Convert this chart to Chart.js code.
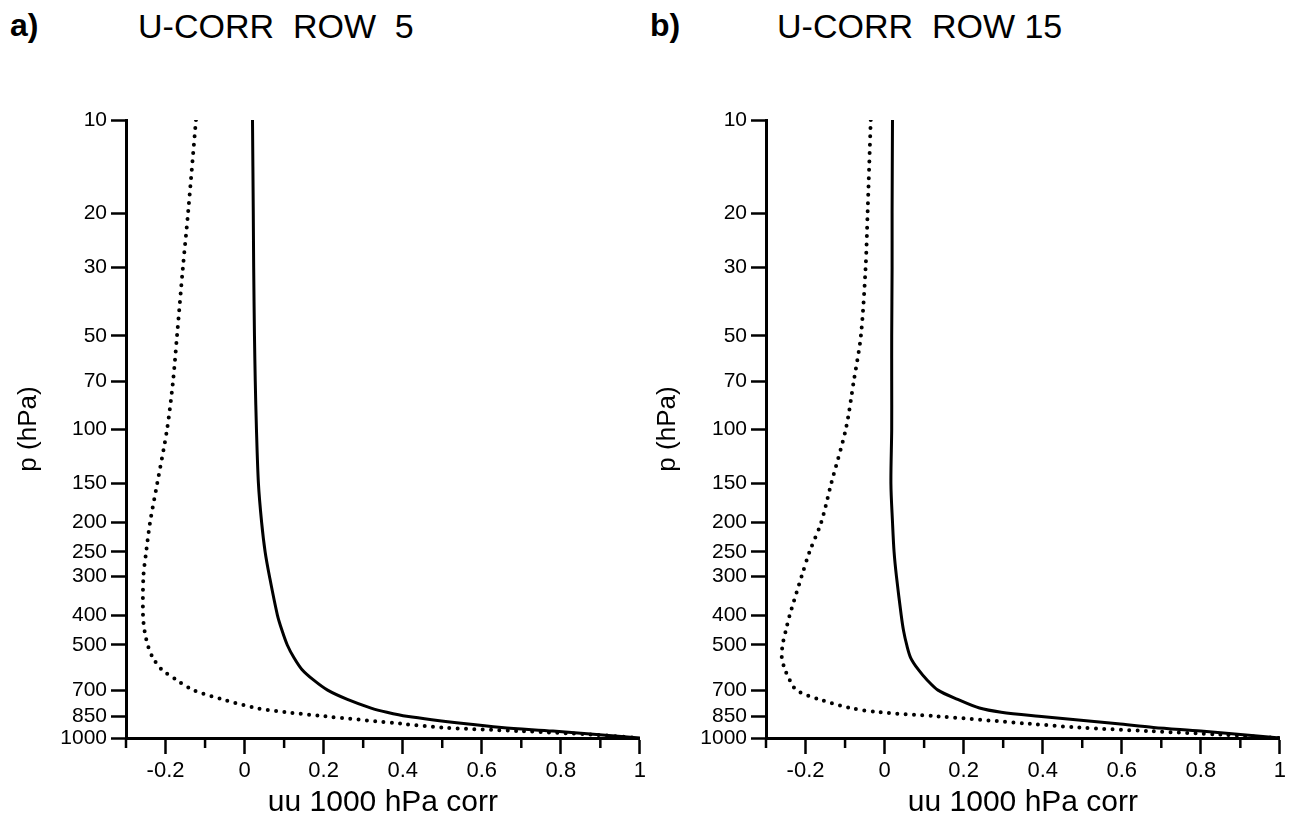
<!DOCTYPE html>
<html>
<head>
<meta charset="utf-8">
<script src="https://cdn.jsdelivr.net/npm/chart.js@4"></script>
<style>
  html, body { margin: 0; padding: 0; background: #fff; }
  body { width: 1290px; height: 818px; position: relative; overflow: hidden; font-family: "Liberation Sans", Arial, sans-serif; }
  .lbl { position: absolute; white-space: pre; color: #000; line-height: 1; }
  .panel { position: absolute; font-size: 32px; font-weight: bold; top: 9px; }
  .title { position: absolute; font-size: 34px; top: 9px; white-space: pre; }
  canvas { position: absolute; top: 0; }
</style>
</head>
<body>
<div class="lbl panel" style="left:10px">a)</div>
<div class="lbl title" style="left:138px">U-CORR  ROW  5</div>
<div class="lbl panel" style="left:650px">b)</div>
<div class="lbl title" style="left:777px">U-CORR  ROW 15</div>
<canvas id="chartA" width="650" height="818" style="left:0;width:650px;height:818px"></canvas>
<canvas id="chartB" width="645" height="818" style="left:645px;width:645px;height:818px"></canvas>
<script>
// pressure levels (hPa) where the curves were read
const levels = [10, 20, 30, 50, 70, 100, 150, 200, 250, 300, 400, 450, 500, 550, 600, 650, 700, 750, 800, 825, 850, 900, 925, 950, 975, 1000];

// panel a) row 5
const solidA  = [0.02, 0.022, 0.023, 0.025, 0.027, 0.03, 0.035, 0.043, 0.052, 0.063, 0.083, 0.095, 0.108, 0.125, 0.145, 0.175, 0.21, 0.26, 0.32, 0.36, 0.41, 0.56, 0.65, 0.78, 0.89, 1.0];
const dottedA = [-0.123, -0.143, -0.156, -0.171, -0.181, -0.196, -0.221, -0.239, -0.249, -0.256, -0.257, -0.253, -0.245, -0.232, -0.21, -0.171, -0.13, -0.055, 0.03, 0.105, 0.2, 0.4, 0.5, 0.7, 0.88, 1.0];

// panel b) row 15
const solidB  = [0.02, 0.019, 0.019, 0.018, 0.018, 0.018, 0.016, 0.02, 0.024, 0.03, 0.042, 0.048, 0.056, 0.066, 0.085, 0.108, 0.135, 0.185, 0.24, 0.295, 0.39, 0.59, 0.68, 0.8, 0.9, 1.0];
const dottedB = [-0.035, -0.043, -0.048, -0.06, -0.078, -0.098, -0.135, -0.16, -0.19, -0.21, -0.24, -0.25, -0.258, -0.26, -0.252, -0.24, -0.223, -0.165, -0.085, -0.015, 0.13, 0.37, 0.49, 0.67, 0.85, 1.0];

const yTicks = [10, 20, 30, 50, 70, 100, 150, 200, 250, 300, 400, 500, 700, 850, 1000];
const xMajorTicks = [-0.2, 0, 0.2, 0.4, 0.6, 0.8, 1];
const xMinorTicks = [-0.3, -0.1, 0.1, 0.3, 0.5, 0.7, 0.9];

const FONT = '"Liberation Sans", Arial, sans-serif';

function pairs(xs) {
    return xs.map((x, i) => ({ x: x, y: levels[i] }));
}

// short ticks on the odd tenths of the x axis
const minorTicks = {
    id: 'minorTicks',
    afterDraw(chart) {
        const xs = chart.scales.x;
        const ctx = chart.ctx;
        ctx.save();
        ctx.strokeStyle = '#000';
        ctx.lineWidth = 2.5;
        xMinorTicks.forEach(v => {
            const px = xs.getPixelForValue(v);
            ctx.beginPath();
            ctx.moveTo(px, xs.top);
            ctx.lineTo(px, xs.top + 10);
            ctx.stroke();
        });
        ctx.restore();
    }
};

function makeChart(id, solid, dotted, yAxisWidth, padRight, yTitlePad) {
    const ctx = document.getElementById(id).getContext('2d');
    return new Chart(ctx, {
        type: 'scatter',
        data: {
            datasets: [{
                label: 'solid',
                data: pairs(solid),
                showLine: true,
                borderColor: '#000',
                borderWidth: 3,
                pointRadius: 0,
                tension: 0.3,
                fill: false
            }, {
                label: 'dotted',
                data: pairs(dotted),
                showLine: true,
                borderColor: '#000',
                borderWidth: 4,
                borderDash: [0, 8.3],
                borderCapStyle: 'round',
                pointRadius: 0,
                tension: 0.3,
                fill: false
            }]
        },
        options: {
            responsive: false,
            animation: false,
            layout: { padding: { left: 0, right: padRight, top: 120, bottom: 0 } },
            plugins: {
                legend: { display: false },
                tooltip: { enabled: false }
            },
            scales: {
                x: {
                    type: 'linear',
                    min: -0.3,
                    max: 1,
                    afterBuildTicks: scale => { scale.ticks = xMajorTicks.map(v => ({ value: v })); },
                    afterFit: scale => { scale.height = 80; },
                    border: { display: true, color: '#000', width: 3 },
                    grid: { drawOnChartArea: false, drawTicks: true, tickLength: 16, tickColor: '#000', tickWidth: 2.5 },
                    ticks: {
                        color: '#000',
                        font: { family: FONT, size: 22 },
                        padding: 4,
                        maxRotation: 0,
                        autoSkip: false,
                        callback: v => String(Math.round(v * 10) / 10)
                    },
                    title: {
                        display: true,
                        text: 'uu 1000 hPa corr',
                        color: '#000',
                        font: { family: FONT, size: 30, lineHeight: 1 },
                        padding: { top: 0, bottom: 0 }
                    }
                },
                y: {
                    type: 'logarithmic',
                    min: 10,
                    max: 1000,
                    reverse: true,
                    afterBuildTicks: scale => { scale.ticks = yTicks.map(v => ({ value: v })); },
                    afterFit: scale => { scale.width = yAxisWidth; },
                    border: { display: true, color: '#000', width: 3 },
                    grid: { drawOnChartArea: false, drawTicks: true, tickLength: 15, tickColor: '#000', tickWidth: 2.5 },
                    ticks: {
                        color: '#000',
                        font: { family: FONT, size: 21 },
                        padding: 4,
                        autoSkip: false,
                        callback: v => String(v)
                    },
                    title: {
                        display: true,
                        text: 'p (hPa)',
                        color: '#000',
                        font: { family: FONT, size: 26, lineHeight: 1 },
                        padding: { top: yTitlePad, bottom: 0 }
                    }
                }
            }
        },
        plugins: [minorTicks]
    });
}

makeChart('chartA', solidA, dottedA, 126, 7, 16);
makeChart('chartB', solidB, dottedB, 121, 5, 10);
</script>
</body>
</html>
